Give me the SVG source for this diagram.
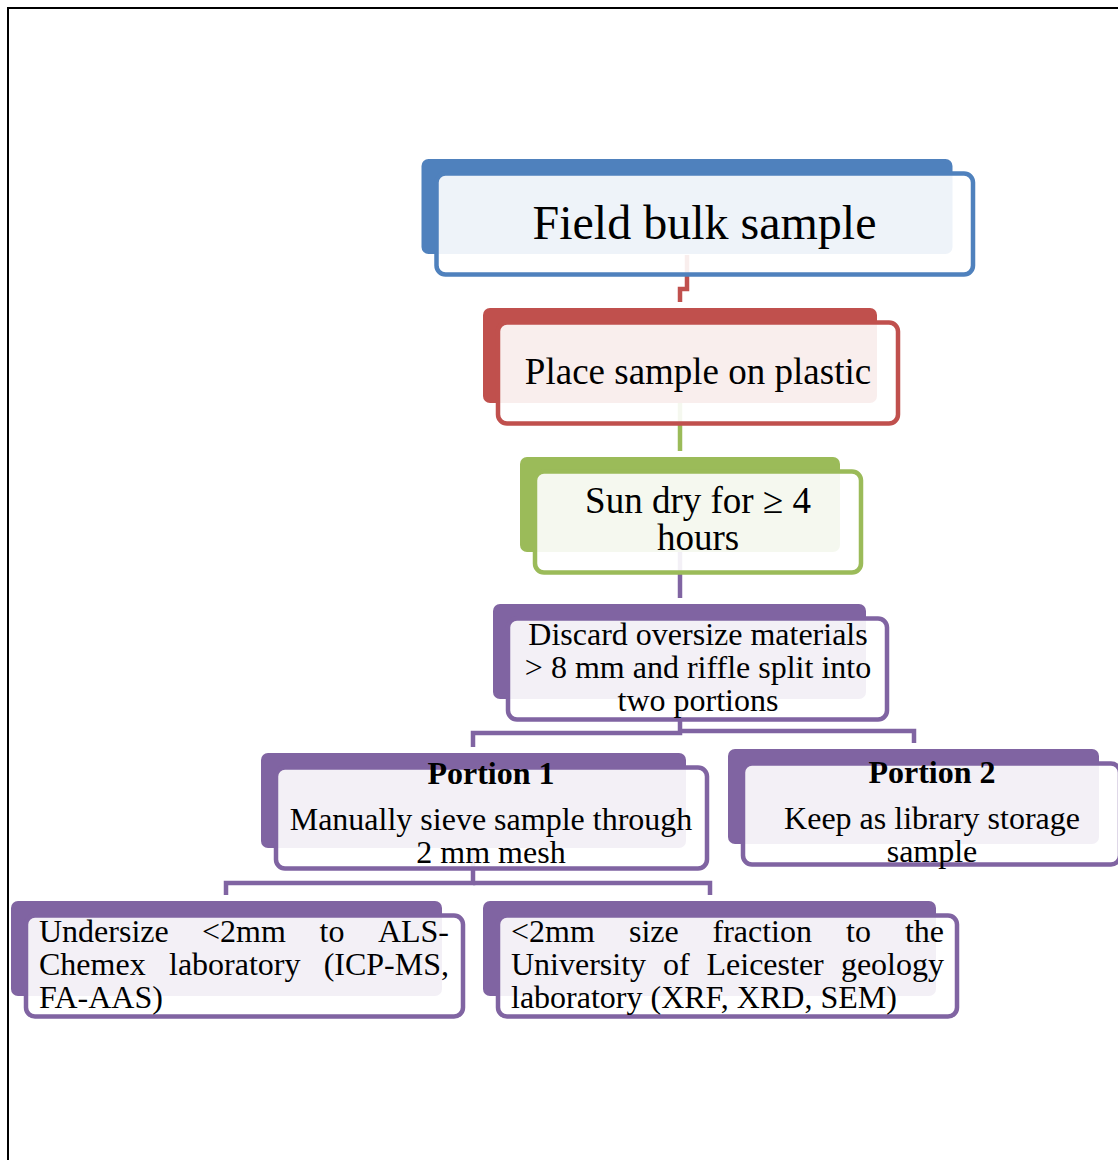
<svg xmlns="http://www.w3.org/2000/svg" width="1118" height="1160" viewBox="0 0 1118 1160">
<style>
text{font-family:"Liberation Serif","Times New Roman",serif;fill:#000}
.t47{font-size:48px}
.t37{font-size:37px}
.t32{font-size:32px}
.b{font-weight:bold}
.c{text-anchor:middle}
.e{text-anchor:end}
.ol{fill:#ffffff;fill-opacity:0.9;stroke-width:4.5}
.conn{fill:none;stroke-width:4.5}
.blue{fill:#4F81BD}
.red{fill:#C0504D}
.green{fill:#9BBB59}
.purple{fill:#8064A2}
</style>
<rect x="0" y="0" width="1118" height="1160" fill="#ffffff"/>
<g id="frame" fill="none" stroke="#000" stroke-width="2">
<polyline points="8,1160 8,8 1118,8"/>
</g>
<g id="connectors">
<polyline class="conn" stroke="#C0504D" points="687,255 687,289 680,289 680,302"/>
<polyline class="conn" stroke="#9BBB59" points="680,403 680,451"/>
<polyline class="conn" stroke="#8064A2" points="680,551 680,598"/>
<polyline class="conn" stroke="#8064A2" points="680,699 680,733 473,733 473,747"/>
<polyline class="conn" stroke="#8064A2" points="680,731 914,731 914,743"/>
<polyline class="conn" stroke="#8064A2" points="473,848 473,883 226,883 226,895"/>
<polyline class="conn" stroke="#8064A2" points="473,883 710,883 710,895"/>
</g>
<g id="node-field">
<rect class="blue" x="421.5" y="159" width="531" height="95" rx="7"/>
<rect class="ol" stroke="#4F81BD" x="436.5" y="173.5" width="536.5" height="101" rx="9"/>
<text class="t47 c" x="704.5" y="239">Field bulk sample</text>
</g>
<g id="node-place">
<rect class="red" x="483" y="308" width="394" height="95" rx="7"/>
<rect class="ol" stroke="#C0504D" x="498" y="322.5" width="400" height="101" rx="9"/>
<text class="t37 c" x="698" y="384">Place sample on plastic</text>
</g>
<g id="node-sundry">
<rect class="green" x="520" y="457" width="320" height="95" rx="7"/>
<rect class="ol" stroke="#9BBB59" x="535" y="471.5" width="326" height="101" rx="9"/>
<text class="t37 c" x="698" y="513">Sun dry for ≥ 4</text>
<text class="t37 c" x="698" y="550">hours</text>
</g>
<g id="node-discard">
<rect class="purple" x="493" y="604" width="373" height="95" rx="7"/>
<rect class="ol" stroke="#8064A2" x="508" y="618.5" width="379" height="101" rx="9"/>
<text class="t32 c" x="698" y="645">Discard oversize materials</text>
<text class="t32 c" x="698" y="678">&gt; 8 mm and riffle split into</text>
<text class="t32 c" x="698" y="711">two portions</text>
</g>
<g id="node-portion1">
<rect class="purple" x="261" y="753" width="425" height="95" rx="7"/>
<rect class="ol" stroke="#8064A2" x="276" y="767.5" width="431" height="101" rx="9"/>
<text class="t32 c b" x="491" y="784">Portion 1</text>
<text class="t32 c" x="491" y="830">Manually sieve sample through</text>
<text class="t32 c" x="491" y="863">2 mm mesh</text>
</g>
<g id="node-portion2">
<rect class="purple" x="728" y="749" width="371" height="95" rx="7"/>
<rect class="ol" stroke="#8064A2" x="743" y="763.5" width="377" height="101" rx="9"/>
<text class="t32 c b" x="932" y="783">Portion 2</text>
<text class="t32 c" x="932" y="829">Keep as library storage</text>
<text class="t32 c" x="932" y="862">sample</text>
</g>
<g id="node-undersize">
<rect class="purple" x="11" y="901" width="431" height="95" rx="7"/>
<rect class="ol" stroke="#8064A2" x="26" y="915.5" width="437" height="101" rx="9"/>
<text class="t32" y="942"><tspan x="39">Undersize</tspan><tspan x="202">&lt;2mm</tspan><tspan x="319.5">to</tspan></text>
<text class="t32 e" x="449" y="942">ALS-</text>
<text class="t32" y="975"><tspan x="39">Chemex</tspan><tspan x="169">laboratory</tspan></text>
<text class="t32 e" x="449" y="975">(ICP-MS,</text>
<text class="t32" x="39" y="1008">FA-AAS)</text>
</g>
<g id="node-fraction">
<rect class="purple" x="483" y="901" width="453" height="95" rx="7"/>
<rect class="ol" stroke="#8064A2" x="498" y="915.5" width="459" height="101" rx="9"/>
<text class="t32" y="942"><tspan x="511">&lt;2mm</tspan><tspan x="629">size</tspan><tspan x="712.5">fraction</tspan><tspan x="846">to</tspan></text>
<text class="t32 e" x="944" y="942">the</text>
<text class="t32" y="975"><tspan x="511">University</tspan><tspan x="663">of</tspan><tspan x="706.5">Leicester</tspan></text>
<text class="t32 e" x="944" y="975">geology</text>
<text class="t32" x="511" y="1008">laboratory (XRF, XRD, SEM)</text>
</g>
</svg>
